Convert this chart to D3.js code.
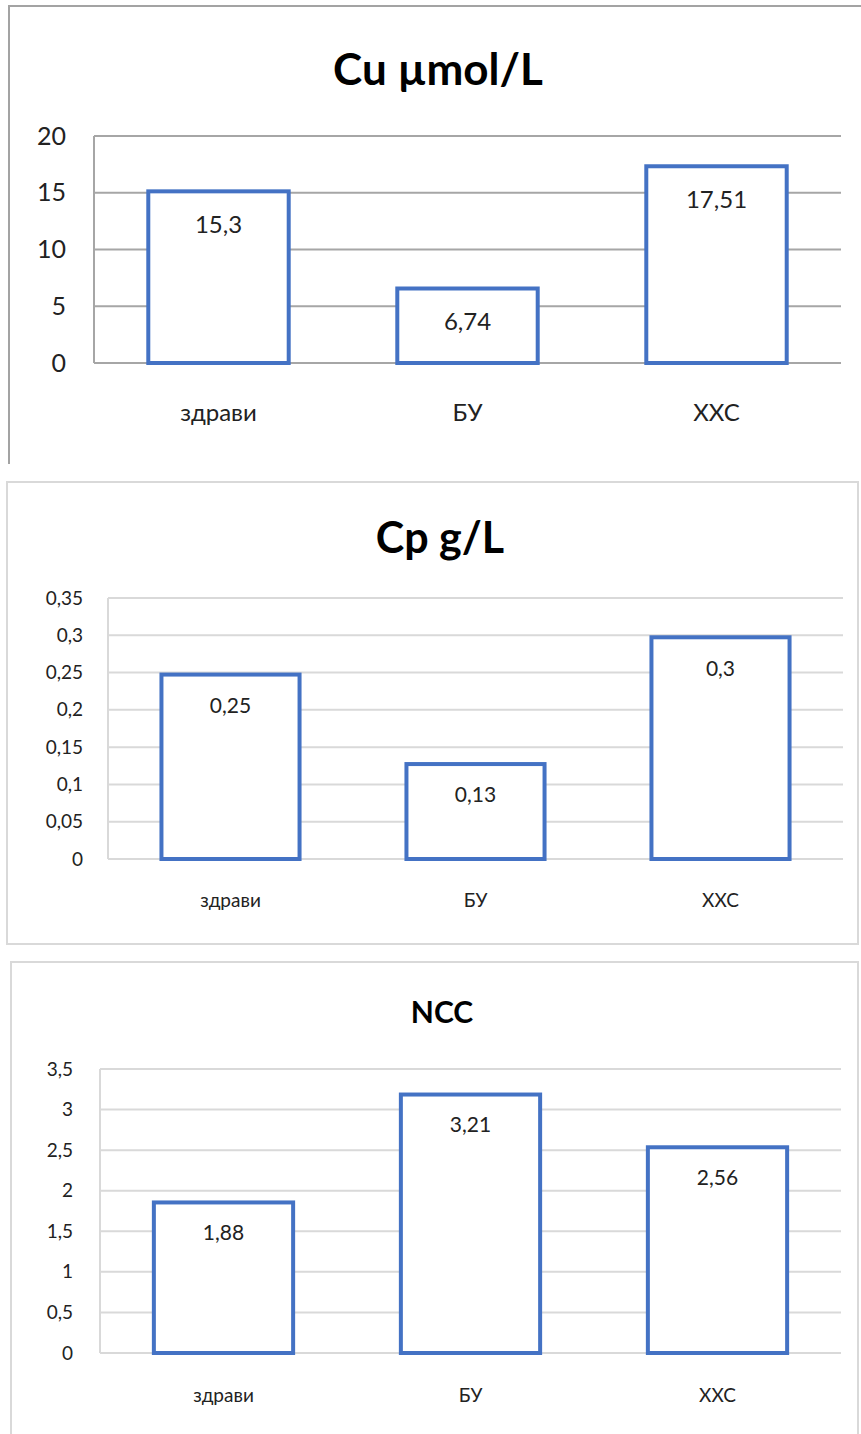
<!DOCTYPE html>
<html>
<head>
<meta charset="utf-8">
<script src="https://cdn.jsdelivr.net/npm/d3@7"></script>
<style>
  body { margin: 0; background: #fff; }
  svg { display: block; font-family: Lato, "Open Sans", sans-serif; }
</style>
</head>
<body>
<svg id="charts" width="861" height="1434"></svg>
<script>
// data
var categories = ["здрави", "БУ", "ХХС"];
var cuValues = [15.3, 6.74, 17.51];
var cpValues = [0.25, 0.13, 0.3];
var nccValues = [1.88, 3.21, 2.56];
var cuTicks = [0, 5, 10, 15, 20];
var cpTicks = [0, 0.05, 0.1, 0.15, 0.2, 0.25, 0.3, 0.35];
var nccTicks = [0, 0.5, 1, 1.5, 2, 2.5, 3, 3.5];
var titles = ["Cu µmol/L", "Cp g/L", "NCC"];

var ru = d3.formatLocale({ decimal: ",", thousands: " ", grouping: [3], currency: ["", ""] });
var fmt = function (v) { return ru.format("~g")(v); };

var svg = d3.select("#charts");
var blue = "#4472C4";

// layout of each panel
var panels = [
  { title: titles[0], values: cuValues, ticks: cuTicks,
    box: "M9,464 V6 H861", boxColor: "#a3a3a3",
    left: 94, right: 841, top: 136, bottom: 363,
    titleX: 438, titleY: 70, titleSize: 44, tickX: 66, tickSize: 25, catY: 413, catSize: 24,
    valSize: 24, valOff: 35, grid: "#a6a6a6" },
  { title: titles[1], values: cpValues, ticks: cpTicks,
    box: "M7,944 V482 H858 V944 Z", boxColor: "#d9d9d9",
    left: 108, right: 843, top: 598, bottom: 859,
    titleX: 440, titleY: 538, titleSize: 43, tickX: 83, tickSize: 19, catY: 900, catSize: 19,
    valSize: 21, valOff: 33, grid: "#d9d9d9" },
  { title: titles[2], values: nccValues, ticks: nccTicks,
    box: "M11,1434 V962 H858 V1434", boxColor: "#d9d9d9",
    left: 100, right: 841, top: 1069, bottom: 1353,
    titleX: 442, titleY: 1012, titleSize: 30, tickX: 73, tickSize: 19, catY: 1395, catSize: 19,
    valSize: 21, valOff: 32, grid: "#d9d9d9" }
];

panels.forEach(function (p) {
  var g = svg.append("g");

  g.append("path")
    .attr("d", p.box)
    .attr("fill", "none")
    .attr("stroke", p.boxColor)
    .attr("stroke-width", 2);

  var x = d3.scaleBand()
    .domain(categories)
    .range([p.left, p.right])
    .paddingInner(0.42)
    .paddingOuter(0.21);

  var y = d3.scaleLinear()
    .domain([0, d3.max(p.ticks)])
    .range([p.bottom, p.top]);

  g.append("text")
    .attr("x", p.titleX)
    .attr("y", p.titleY)
    .attr("dy", "0.35em")
    .attr("text-anchor", "middle")
    .style("font-size", p.titleSize + "px")
    .style("font-weight", "bold")
    .text(p.title);

  // gridlines
  g.selectAll(".grid")
    .data(p.ticks)
    .enter()
    .append("line")
    .attr("x1", p.left)
    .attr("x2", p.right)
    .attr("y1", function (d) { return y(d); })
    .attr("y2", function (d) { return y(d); })
    .attr("stroke", p.grid)
    .attr("stroke-width", 2);

  g.append("line")
    .attr("x1", p.left).attr("x2", p.left)
    .attr("y1", p.top).attr("y2", p.bottom)
    .attr("stroke", p.grid)
    .attr("stroke-width", 2);

  // y tick labels
  var ya = g.append("g")
    .attr("transform", "translate(" + p.tickX + ",0)")
    .call(d3.axisLeft(y).tickValues(p.ticks).tickSize(0).tickPadding(0).tickFormat(fmt));
  ya.select(".domain").remove();
  ya.selectAll("text")
    .attr("fill", "#222")
    .style("font-family", "Lato, 'Open Sans', sans-serif")
    .style("font-size", p.tickSize + "px");

  // x category labels
  var xa = g.append("g")
    .attr("transform", "translate(0," + p.catY + ")")
    .call(d3.axisBottom(x).tickSize(0).tickPadding(0));
  xa.select(".domain").remove();
  xa.selectAll("text")
    .attr("dy", "0.35em")
    .attr("fill", "#222")
    .style("font-family", "Lato, 'Open Sans', sans-serif")
    .style("font-size", p.catSize + "px");

  // bars
  g.selectAll(".bar")
    .data(p.values)
    .enter()
    .append("rect")
    .attr("x", function (d, i) { return x(categories[i]) + 2; })
    .attr("y", function (d) { return y(d) + 2; })
    .attr("width", x.bandwidth() - 4)
    .attr("height", function (d) { return p.bottom - y(d) - 2; })
    .attr("fill", "#fff")
    .attr("stroke", blue)
    .attr("stroke-width", 4);

  g.selectAll(".val")
    .data(p.values)
    .enter()
    .append("text")
    .attr("x", function (d, i) { return x(categories[i]) + x.bandwidth() / 2; })
    .attr("y", function (d) { return y(d) + p.valOff; })
    .attr("dy", "0.35em")
    .attr("text-anchor", "middle")
    .attr("fill", "#222")
    .style("font-size", p.valSize + "px")
    .text(function (d) { return fmt(d); });
});
</script>
</body>
</html>
